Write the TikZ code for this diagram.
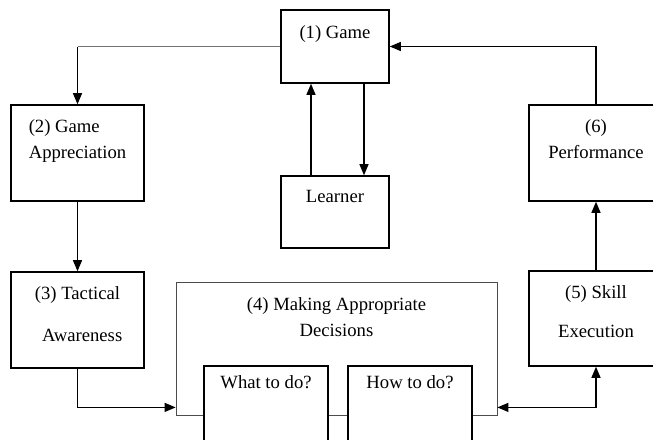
\documentclass[tikz,border=0pt]{standalone}
\usepackage{fontspec}
\setmainfont{Liberation Serif}
\usepackage{tikz}
\usetikzlibrary{shapes,arrows}
\usetikzlibrary{positioning}

\begin{document}
\begin{tikzpicture}[x=0.75pt,y=0.75pt,yscale=-1,xscale=1,
    blk/.style={draw, line width=1.2pt, fill=white, inner sep=0pt},
    outerblk/.style={draw=black!70, line width=0.6pt, inner sep=0pt},
    txt/.style={anchor=north, inner sep=0.75pt, font=\fontsize{14}{19.5}\selectfont},
    flow/.style={-triangle 45, line width=0.9pt},
    thinflow/.style={draw=black!55, line width=0.6pt}]
    \useasboundingbox (0,0) rectangle (653,439);

    % Boxes
    \node [outerblk, minimum width=240.75pt, minimum height=99.75pt] (dec) at (336.5,348.5) {};
    \node [blk, minimum width=81pt, minimum height=54.75pt] (game) at (335,46.5) {};
    \node [blk, minimum width=81pt, minimum height=54pt] (learner) at (335,212) {};
    \node [blk, minimum width=99.75pt, minimum height=72pt] (ga) at (77.5,153) {};
    \node [blk, minimum width=99.75pt, minimum height=72pt] (tac) at (77.5,320) {};
    \node [blk, minimum width=100.5pt, minimum height=72pt] (perf) at (596,153) {};
    \node [blk, minimum width=100.5pt, minimum height=71.25pt] (skill) at (596,318.5) {};
    \node [blk, minimum width=93pt, minimum height=75pt] (what) at (266,416) {};
    \node [blk, minimum width=93pt, minimum height=75pt] (how) at (410,416) {};

    % Text Node
    \node [txt] (gametxt) at ([yshift=11pt]game.north) {(1) Game};
    % Text Node
    \node [txt] (learnertxt) at ([yshift=10.5pt]learner.north) {Learner};
    % Text Node
    \node [txt, align=left] (gatxt) at ([yshift=10.5pt]ga.north) {(2) Game\\Appreciation};
    % Text Node
    \node [txt, align=center] (tactxt) at ([yshift=10.5pt]tac.north) {(3) Tactical\\[12pt]\ \ Awareness};
    % Text Node
    \node [txt, align=center] (dectxt) at ([yshift=11pt]dec.north) {(4) Making Appropriate\\Decisions};
    % Text Node
    \node [txt] (whattxt) at ([yshift=7pt]what.north) {What to do?};
    % Text Node
    \node [txt] (howtxt) at ([yshift=7pt]how.north) {How to do?};
    % Text Node
    \node [txt, align=center] (skilltxt) at ([yshift=10.5pt]skill.north) {(5) Skill\\[10pt]Execution};
    % Text Node
    \node [txt, align=center] (perftxt) at ([yshift=10.5pt]perf.north) {(6)\\Performance};

    % Connectors
    \coordinate (gl) at (game.west -| ga.north);
    \draw [thinflow] (game.west) -- (gl);
    \draw [flow] (gl) -- (ga.north);
    \draw [flow] (ga.south) -- (tac.north);
    \draw [flow] (tac.south) |- ([yshift=-6pt]dec.south west);
    \draw [flow, triangle 45-triangle 45] ([yshift=-6pt]dec.south east) -| (skill.south);
    \draw [flow] (skill.north) -- (perf.south);
    \draw [flow] (perf.north) |- (game.east);
    \draw [flow] ([xshift=-18pt]learner.north) -- ([xshift=-18pt]game.south);
    \draw [flow] ([xshift=21.75pt]game.south) -- ([xshift=21.75pt]learner.north);
\end{tikzpicture}
\end{document}
